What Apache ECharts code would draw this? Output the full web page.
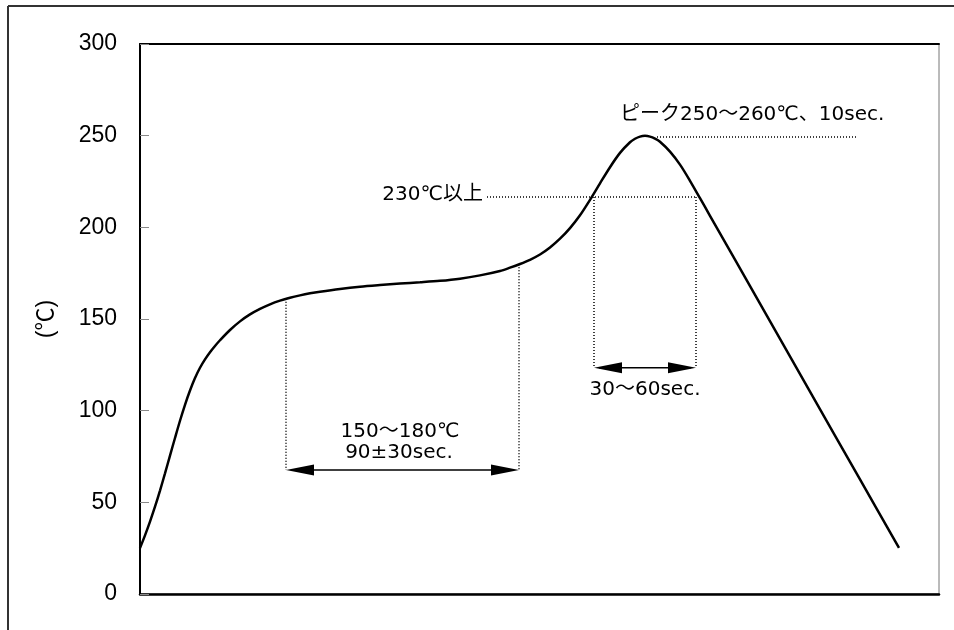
<!DOCTYPE html>
<html><head><meta charset="utf-8">
<script src="https://cdn.jsdelivr.net/npm/echarts@6/dist/echarts.min.js"></script>
<style>html,body{margin:0;padding:0;background:#fff}#c{width:954px;height:630px}</style>
</head><body><div id="c"></div>
<script>
// Reflow profile curve (x: time position, y: temperature ℃)
const curveX = [0, 5, 10, 15, 20, 25, 30, 35, 40, 45, 50, 55, 60, 65, 70, 75, 80, 90, 100, 110, 120, 130, 140, 150, 160, 170, 180, 200, 220, 240, 260, 280, 300, 320, 340, 360, 370, 380, 390, 400, 410, 420, 430, 440, 450, 460, 470, 480, 490, 495, 500, 505, 510, 515, 520, 530, 540, 550, 560, 570, 620, 670, 720, 759];
const curveY = [25.1, 32.0, 39.5, 47.6, 56.4, 65.8, 75.5, 85.1, 94.5, 103.2, 111.0, 117.8, 123.4, 128.0, 131.9, 135.3, 138.4, 144.0, 148.7, 152.5, 155.5, 158.0, 160.0, 161.6, 162.9, 164.0, 164.9, 166.4, 167.6, 168.5, 169.3, 170.0, 170.8, 172.0, 173.8, 176.2, 178.0, 180.0, 182.3, 185.2, 189.0, 193.8, 199.6, 206.6, 215.0, 224.0, 232.8, 240.6, 246.4, 248.3, 249.5, 249.9, 249.5, 248.4, 246.7, 241.3, 234.2, 225.4, 215.9, 206.3, 158.4, 110.4, 62.5, 25.1];
const yTicks = [0, 50, 100, 150, 200, 250, 300];

// Annotation guide values
const soakSpan = [146, 379];      // 150~180℃ hold region
const soakTop = [161, 179.8];     // curve temperatures at the span ends
const soakArrowY = 67.6;
const reflowSpan = [454, 556];    // above-liquidus region
const liquidusY = 216.5;
const reflowArrowY = 123.4;
const peakY = 249.3;
const peakLineX = [517, 717];
const liquidusLineX0 = 347;

const labels = ['ピーク250～260℃、10sec.', '230℃以上', '150～180℃', '90±30sec.', '30～60sec.'];
const labelX = [480, 343, 260, 259, 505];
const labelY = [261.3, 217.6, 88.4, 76.9, 111.3];
const labelAlign = ['left', 'right', 'center', 'center', 'center'];

const curveData = curveX.map((x, i) => [x, curveY[i]]);
const dot = { color: '#000', width: 1.5, type: [1, 2] };
const seg = (x1, y1, x2, y2) => [{ coord: [x1, y1], lineStyle: dot }, { coord: [x2, y2] }];

const chart = echarts.init(document.getElementById('c'));
const annFont = "20px 'DejaVu Sans', 'Noto Sans CJK JP', sans-serif";

chart.setOption({
  animation: false,
  backgroundColor: '#fff',
  graphic: [
    { type: 'line', shape: { x1: 8, y1: 6, x2: 954, y2: 6 }, style: { stroke: '#333', lineWidth: 2 } },
    { type: 'line', shape: { x1: 8, y1: 6, x2: 8, y2: 630 }, style: { stroke: '#333', lineWidth: 2 } }
  ],
  grid: { left: 140, right: 15, top: 44, bottom: 36, show: true, borderColor: '#777', borderWidth: 1, backgroundColor: 'transparent' },
  xAxis: [
    { type: 'value', min: 0, max: 799, axisLine: { show: true, onZero: false, lineStyle: { color: '#000', width: 2.5 } }, axisTick: { show: false }, axisLabel: { show: false }, splitLine: { show: false } },
    { type: 'value', position: 'top', min: 0, max: 799, axisLine: { show: true, onZero: false, lineStyle: { color: '#000', width: 2 } }, axisTick: { show: false }, axisLabel: { show: false }, splitLine: { show: false } }
  ],
  yAxis: {
    type: 'value', min: yTicks[0], max: yTicks[yTicks.length - 1], interval: 50,
    name: '(℃)', nameLocation: 'middle', nameGap: 82, nameRotate: 90,
    nameTextStyle: { fontSize: 23, color: '#000', fontFamily: "'Liberation Sans', 'Noto Sans CJK JP', sans-serif" },
    axisLine: { show: true, lineStyle: { color: '#000', width: 2 } },
    axisTick: { show: true, inside: true, length: 9, lineStyle: { color: '#888', width: 1 } },
    axisLabel: { fontSize: 23, color: '#000', margin: 23, fontFamily: "'Liberation Sans', Arial, sans-serif" },
    splitLine: { show: false }
  },
  series: [
    {
      type: 'line', data: curveData, smooth: 0.3, showSymbol: false, symbol: 'none',
      lineStyle: { color: '#000', width: 2.5 }, z: 5,
      markLine: {
        silent: true, symbol: ['none', 'none'], label: { show: false },
        data: [
          seg(soakSpan[0], soakTop[0], soakSpan[0], soakArrowY),
          seg(soakSpan[1], soakTop[1], soakSpan[1], soakArrowY),
          seg(liquidusLineX0, liquidusY, reflowSpan[1], liquidusY),
          seg(reflowSpan[0], liquidusY, reflowSpan[0], reflowArrowY),
          seg(reflowSpan[1], liquidusY, reflowSpan[1], reflowArrowY),
          seg(peakLineX[0], peakY, peakLineX[1], peakY)
        ]
      }
    },
    {
      type: 'custom', z: 6, silent: true,
      data: [[soakSpan[0], soakSpan[1], soakArrowY], [reflowSpan[0], reflowSpan[1], reflowArrowY]],
      encode: { x: [0, 1], y: 2 },
      renderItem: function (params, api) {
        const a = api.coord([api.value(0), api.value(2)]);
        const b = api.coord([api.value(1), api.value(2)]);
        const L = 28, H = 5.5;
        return {
          type: 'group', children: [
            { type: 'line', shape: { x1: a[0] + 5, y1: a[1], x2: b[0] - 5, y2: b[1] }, style: { stroke: '#000', lineWidth: 1.5 } },
            { type: 'polygon', shape: { points: [[a[0], a[1]], [a[0] + L, a[1] - H], [a[0] + L, a[1] + H]] }, style: { fill: '#000' } },
            { type: 'polygon', shape: { points: [[b[0], b[1]], [b[0] - L, b[1] - H], [b[0] - L, b[1] + H]] }, style: { fill: '#000' } }
          ]
        };
      }
    },
    {
      type: 'custom', z: 7, silent: true,
      data: labelX.map((x, i) => [x, labelY[i], i]),
      encode: { x: 0, y: 1 },
      renderItem: function (params, api) {
        const p = api.coord([api.value(0), api.value(1)]);
        const i = api.value(2);
        return {
          type: 'text', x: p[0], y: p[1],
          style: { text: labels[i], font: annFont, fill: '#000', align: labelAlign[i], verticalAlign: 'middle' }
        };
      }
    }
  ]
});
</script></body></html>
